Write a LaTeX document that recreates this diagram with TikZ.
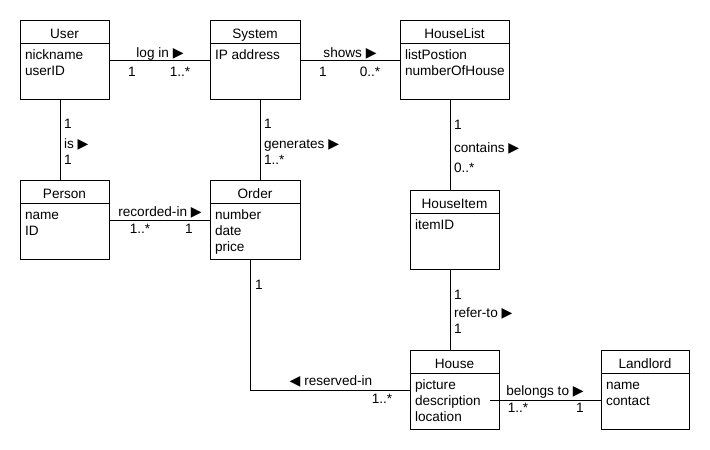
\documentclass[tikz,border=0pt]{standalone}
\usepackage{fontspec}
\setmainfont{Liberation Sans}
\newfontfamily\symfont{DejaVu Sans}
\begin{document}
\newcommand\rarr{ {\symfont\fontsize{14pt}{14pt}\selectfont ▶}}
\newcommand\larr{{\symfont\fontsize{14pt}{14pt}\selectfont ◀} }
% class box: name, x, y, width, title, attributes
\newcommand\umlclass[6]{%
  \node[classbox, minimum width=#4pt, anchor=north west] (#1) at (#2,#3) {};
  \draw[line] ([yshift=-23pt]#1.north west) -- ([yshift=-23pt]#1.north east);
  \node[txt, anchor=base] (#1-title) at ([yshift=-18pt]#1.north) {#5};
  \foreach \a [count=\i from 0] in {#6}
    \node[txt, anchor=base west] (#1-attr\i) at ([xshift=5pt,yshift=-39.5pt-16pt*\i]#1.north west) {\a};
}
\begin{tikzpicture}[x=1pt, y=-1pt,
  line/.style={line width=1pt},
  classbox/.style={draw, line width=1pt, minimum height=79pt, inner sep=0pt, outer sep=0pt, fill=white},
  txt/.style={inner sep=0pt, outer sep=0pt, font=\fontsize{13.6pt}{15pt}\selectfont},
  lab/.style={txt, anchor=base},
  vlab/.style={txt, anchor=base west}]
\useasboundingbox[fill=white] (0,0) rectangle (710,450);

\umlclass{user}{20}{20}{89}{User}{nickname,userID}
\umlclass{system}{210}{20}{90}{System}{IP address}
\umlclass{houselist}{400}{20}{109}{HouseList}{listPostion,numberOfHouse}
\umlclass{person}{20}{180}{89}{Person}{name,ID}
\umlclass{order}{210}{180}{90}{Order}{number,date,price}
\umlclass{houseitem}{410}{190}{89}{HouseItem}{itemID}
\umlclass{house}{410}{350}{89}{House}{picture,description,location}
\umlclass{landlord}{601}{350}{88}{Landlord}{name,contact}

% associations
\draw[line] (user.east |- 0,60) -- (system.west |- 0,60);
\draw[line] (system.east |- 0,60) -- (houselist.west |- 0,60);
\draw[line] (user.south -| 60,0) -- (person.north -| 60,0);
\draw[line] (system.south -| 260,0) -- (order.north -| 260,0);
\draw[line] (person.east |- 0,220) -- (order.west |- 0,220);
\draw[line] (houselist.south -| 450,0) -- (houseitem.north -| 450,0);
\draw[line] (houseitem.south -| 450,0) -- (house.north -| 450,0);
\coordinate (ordfoot) at (order.south -| 250,0);
\draw[line] (ordfoot) |- (house.west |- 0,390);
\coordinate (descend) at (490,400);
\draw[line] (descend) -- (landlord.west |- 0,400);

% association names and multiplicities
\node[lab] (login) at (160,57) {log in\rarr};
\node[lab] (login-a) at (132,76) {1};
\node[lab] (login-b) at (180,76) {1..*};

\node[lab] (shows) at (350,57) {shows\rarr};
\node[lab] (shows-a) at (323,76) {1};
\node[lab] (shows-b) at (370,76) {0..*};

\node[vlab] (is-a) at (64,128) {1};
\node[vlab] (is) at (64,148) {is\rarr};
\node[vlab] (is-b) at (64,164) {1};

\node[vlab] (gen-a) at (264,128) {1};
\node[vlab] (gen) at (264,148) {generates\rarr};
\node[vlab] (gen-b) at (264,164) {1..*};

\node[vlab] (cont-a) at (454,129) {1};
\node[vlab] (cont) at (454,152) {contains\rarr};
\node[vlab] (cont-b) at (454,172) {0..*};

\node[vlab] (ref-a) at (454,299) {1};
\node[vlab] (ref) at (454,317) {refer-to\rarr};
\node[vlab] (ref-b) at (454,333) {1};

\node[lab] (rec) at (160,216) {recorded-in\rarr};
\node[lab] (rec-a) at (140,233) {1..*};
\node[lab] (rec-b) at (189,233) {1};

\node[vlab] (res-a) at (255,289) {1};
\node[lab] (res) at (331,385) {\larr reserved-in};
\node[lab] (res-b) at (382,403) {1..*};

\node[lab] (bel) at (545,395) {belongs to\rarr};
\node[lab] (bel-a) at (518,412) {1..*};
\node[lab] (bel-b) at (580,412) {1};
\end{tikzpicture}
\end{document}
